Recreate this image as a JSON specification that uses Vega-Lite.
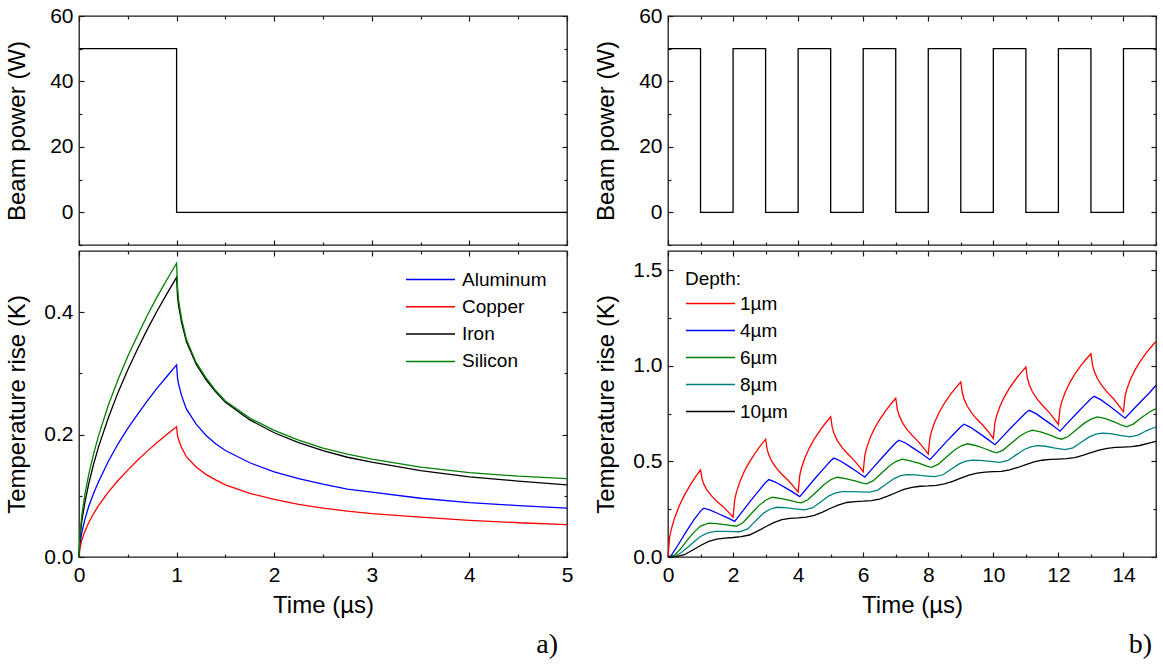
{
  "$schema": "https://vega.github.io/schema/vega-lite/v6.json",
  "padding": {"left": 4, "top": 4, "right": 4, "bottom": 4},
  "columns": 2,
  "spacing": {"row": 2, "column": 19},
  "resolve": {"scale": {"color": "independent", "x": "independent", "y": "independent"}, "legend": {"color": "independent"}},
  "datasets": {
    "powerA": [
      {"t": 0, "P": 50}, {"t": 1, "P": 0}, {"t": 5, "P": 0}
    ],
    "powerB": [
      {"t": 0, "P": 50}, {"t": 1, "P": 0}, {"t": 2, "P": 50}, {"t": 3, "P": 0}, {"t": 4, "P": 50}, {"t": 5, "P": 0},
      {"t": 6, "P": 50}, {"t": 7, "P": 0}, {"t": 8, "P": 50}, {"t": 9, "P": 0}, {"t": 10, "P": 50}, {"t": 11, "P": 0},
      {"t": 12, "P": 50}, {"t": 13, "P": 0}, {"t": 14, "P": 50}, {"t": 15, "P": 50}
    ],
    "tempA": [
      {"m": "Aluminum", "t": 0, "T": 0}, {"m": "Aluminum", "t": 0.01, "T": 0.022}, {"m": "Aluminum", "t": 0.03, "T": 0.041}, {"m": "Aluminum", "t": 0.06, "T": 0.061}, {"m": "Aluminum", "t": 0.1, "T": 0.083}, {"m": "Aluminum", "t": 0.15, "T": 0.104}, {"m": "Aluminum", "t": 0.2, "T": 0.123}, {"m": "Aluminum", "t": 0.3, "T": 0.156}, {"m": "Aluminum", "t": 0.4, "T": 0.185}, {"m": "Aluminum", "t": 0.5, "T": 0.21}, {"m": "Aluminum", "t": 0.6, "T": 0.233}, {"m": "Aluminum", "t": 0.7, "T": 0.255}, {"m": "Aluminum", "t": 0.8, "T": 0.276}, {"m": "Aluminum", "t": 0.9, "T": 0.295}, {"m": "Aluminum", "t": 1, "T": 0.314},
      {"m": "Aluminum", "t": 1.01, "T": 0.292}, {"m": "Aluminum", "t": 1.02, "T": 0.283}, {"m": "Aluminum", "t": 1.05, "T": 0.264}, {"m": "Aluminum", "t": 1.1, "T": 0.242}, {"m": "Aluminum", "t": 1.2, "T": 0.217}, {"m": "Aluminum", "t": 1.3, "T": 0.199}, {"m": "Aluminum", "t": 1.4, "T": 0.185}, {"m": "Aluminum", "t": 1.5, "T": 0.174}, {"m": "Aluminum", "t": 1.75, "T": 0.154}, {"m": "Aluminum", "t": 2, "T": 0.139}, {"m": "Aluminum", "t": 2.25, "T": 0.128}, {"m": "Aluminum", "t": 2.5, "T": 0.119}, {"m": "Aluminum", "t": 2.75, "T": 0.111}, {"m": "Aluminum", "t": 3, "T": 0.106}, {"m": "Aluminum", "t": 3.5, "T": 0.096}, {"m": "Aluminum", "t": 4, "T": 0.089}, {"m": "Aluminum", "t": 4.5, "T": 0.084}, {"m": "Aluminum", "t": 5, "T": 0.08},
      {"m": "Copper", "t": 0, "T": 0}, {"m": "Copper", "t": 0.01, "T": 0.015}, {"m": "Copper", "t": 0.03, "T": 0.028}, {"m": "Copper", "t": 0.06, "T": 0.042}, {"m": "Copper", "t": 0.1, "T": 0.056}, {"m": "Copper", "t": 0.15, "T": 0.071}, {"m": "Copper", "t": 0.2, "T": 0.084}, {"m": "Copper", "t": 0.3, "T": 0.106}, {"m": "Copper", "t": 0.4, "T": 0.125}, {"m": "Copper", "t": 0.5, "T": 0.142}, {"m": "Copper", "t": 0.6, "T": 0.158}, {"m": "Copper", "t": 0.7, "T": 0.173}, {"m": "Copper", "t": 0.8, "T": 0.187}, {"m": "Copper", "t": 0.9, "T": 0.2}, {"m": "Copper", "t": 1, "T": 0.213},
      {"m": "Copper", "t": 1.01, "T": 0.198}, {"m": "Copper", "t": 1.02, "T": 0.192}, {"m": "Copper", "t": 1.05, "T": 0.179}, {"m": "Copper", "t": 1.1, "T": 0.164}, {"m": "Copper", "t": 1.2, "T": 0.147}, {"m": "Copper", "t": 1.3, "T": 0.135}, {"m": "Copper", "t": 1.4, "T": 0.126}, {"m": "Copper", "t": 1.5, "T": 0.118}, {"m": "Copper", "t": 1.75, "T": 0.104}, {"m": "Copper", "t": 2, "T": 0.094}, {"m": "Copper", "t": 2.25, "T": 0.086}, {"m": "Copper", "t": 2.5, "T": 0.08}, {"m": "Copper", "t": 2.75, "T": 0.075}, {"m": "Copper", "t": 3, "T": 0.071}, {"m": "Copper", "t": 3.5, "T": 0.065}, {"m": "Copper", "t": 4, "T": 0.06}, {"m": "Copper", "t": 4.5, "T": 0.056}, {"m": "Copper", "t": 5, "T": 0.053},
      {"m": "Iron", "t": 0, "T": 0}, {"m": "Iron", "t": 0.01, "T": 0.032}, {"m": "Iron", "t": 0.03, "T": 0.06}, {"m": "Iron", "t": 0.06, "T": 0.089}, {"m": "Iron", "t": 0.1, "T": 0.12}, {"m": "Iron", "t": 0.15, "T": 0.152}, {"m": "Iron", "t": 0.2, "T": 0.18}, {"m": "Iron", "t": 0.3, "T": 0.227}, {"m": "Iron", "t": 0.4, "T": 0.269}, {"m": "Iron", "t": 0.5, "T": 0.306}, {"m": "Iron", "t": 0.6, "T": 0.34}, {"m": "Iron", "t": 0.7, "T": 0.372}, {"m": "Iron", "t": 0.8, "T": 0.402}, {"m": "Iron", "t": 0.9, "T": 0.43}, {"m": "Iron", "t": 1, "T": 0.457},
      {"m": "Iron", "t": 1.01, "T": 0.425}, {"m": "Iron", "t": 1.02, "T": 0.411}, {"m": "Iron", "t": 1.05, "T": 0.384}, {"m": "Iron", "t": 1.1, "T": 0.352}, {"m": "Iron", "t": 1.2, "T": 0.315}, {"m": "Iron", "t": 1.3, "T": 0.29}, {"m": "Iron", "t": 1.4, "T": 0.27}, {"m": "Iron", "t": 1.5, "T": 0.253}, {"m": "Iron", "t": 1.75, "T": 0.224}, {"m": "Iron", "t": 2, "T": 0.203}, {"m": "Iron", "t": 2.25, "T": 0.187}, {"m": "Iron", "t": 2.5, "T": 0.174}, {"m": "Iron", "t": 2.75, "T": 0.163}, {"m": "Iron", "t": 3, "T": 0.155}, {"m": "Iron", "t": 3.5, "T": 0.141}, {"m": "Iron", "t": 4, "T": 0.131}, {"m": "Iron", "t": 4.5, "T": 0.124}, {"m": "Iron", "t": 5, "T": 0.118},
      {"m": "Silicon", "t": 0, "T": 0}, {"m": "Silicon", "t": 0.01, "T": 0.038}, {"m": "Silicon", "t": 0.03, "T": 0.07}, {"m": "Silicon", "t": 0.06, "T": 0.102}, {"m": "Silicon", "t": 0.1, "T": 0.135}, {"m": "Silicon", "t": 0.15, "T": 0.169}, {"m": "Silicon", "t": 0.2, "T": 0.198}, {"m": "Silicon", "t": 0.3, "T": 0.248}, {"m": "Silicon", "t": 0.4, "T": 0.29}, {"m": "Silicon", "t": 0.5, "T": 0.328}, {"m": "Silicon", "t": 0.6, "T": 0.362}, {"m": "Silicon", "t": 0.7, "T": 0.395}, {"m": "Silicon", "t": 0.8, "T": 0.425}, {"m": "Silicon", "t": 0.9, "T": 0.453}, {"m": "Silicon", "t": 1, "T": 0.48},
      {"m": "Silicon", "t": 1.01, "T": 0.44}, {"m": "Silicon", "t": 1.02, "T": 0.42}, {"m": "Silicon", "t": 1.05, "T": 0.39}, {"m": "Silicon", "t": 1.1, "T": 0.356}, {"m": "Silicon", "t": 1.2, "T": 0.318}, {"m": "Silicon", "t": 1.3, "T": 0.293}, {"m": "Silicon", "t": 1.4, "T": 0.272}, {"m": "Silicon", "t": 1.5, "T": 0.255}, {"m": "Silicon", "t": 1.75, "T": 0.227}, {"m": "Silicon", "t": 2, "T": 0.207}, {"m": "Silicon", "t": 2.25, "T": 0.191}, {"m": "Silicon", "t": 2.5, "T": 0.178}, {"m": "Silicon", "t": 2.75, "T": 0.168}, {"m": "Silicon", "t": 3, "T": 0.16}, {"m": "Silicon", "t": 3.5, "T": 0.147}, {"m": "Silicon", "t": 4, "T": 0.138}, {"m": "Silicon", "t": 4.5, "T": 0.132}, {"m": "Silicon", "t": 5, "T": 0.128}
    ],
    "tempB": [
      {"d": "1µm", "t": 0, "T": 0}, {"d": "1µm", "t": 0.05, "T": 0.102}, {"d": "1µm", "t": 0.1, "T": 0.144}, {"d": "1µm", "t": 0.2, "T": 0.203}, {"d": "1µm", "t": 0.35, "T": 0.269}, {"d": "1µm", "t": 0.5, "T": 0.322}, {"d": "1µm", "t": 0.7, "T": 0.381}, {"d": "1µm", "t": 0.85, "T": 0.42}, {"d": "1µm", "t": 1, "T": 0.455},
      {"d": "1µm", "t": 1.05, "T": 0.406}, {"d": "1µm", "t": 1.1, "T": 0.381}, {"d": "1µm", "t": 1.2, "T": 0.349}, {"d": "1µm", "t": 1.35, "T": 0.317}, {"d": "1µm", "t": 1.5, "T": 0.292}, {"d": "1µm", "t": 1.7, "T": 0.262}, {"d": "1µm", "t": 1.85, "T": 0.236}, {"d": "1µm", "t": 2, "T": 0.208},
      {"d": "1µm", "t": 2.05, "T": 0.299}, {"d": "1µm", "t": 2.1, "T": 0.337}, {"d": "1µm", "t": 2.2, "T": 0.39}, {"d": "1µm", "t": 2.35, "T": 0.45}, {"d": "1µm", "t": 2.5, "T": 0.496}, {"d": "1µm", "t": 2.7, "T": 0.549}, {"d": "1µm", "t": 2.85, "T": 0.584}, {"d": "1µm", "t": 3, "T": 0.616},
      {"d": "1µm", "t": 3.05, "T": 0.561}, {"d": "1µm", "t": 3.1, "T": 0.533}, {"d": "1µm", "t": 3.2, "T": 0.497}, {"d": "1µm", "t": 3.35, "T": 0.461}, {"d": "1µm", "t": 3.5, "T": 0.433}, {"d": "1µm", "t": 3.7, "T": 0.4}, {"d": "1µm", "t": 3.85, "T": 0.371}, {"d": "1µm", "t": 4, "T": 0.339},
      {"d": "1µm", "t": 4.05, "T": 0.427}, {"d": "1µm", "t": 4.1, "T": 0.464}, {"d": "1µm", "t": 4.2, "T": 0.515}, {"d": "1µm", "t": 4.35, "T": 0.572}, {"d": "1µm", "t": 4.5, "T": 0.618}, {"d": "1µm", "t": 4.7, "T": 0.669}, {"d": "1µm", "t": 4.85, "T": 0.702}, {"d": "1µm", "t": 5, "T": 0.733},
      {"d": "1µm", "t": 5.05, "T": 0.676}, {"d": "1µm", "t": 5.1, "T": 0.647}, {"d": "1µm", "t": 5.2, "T": 0.61}, {"d": "1µm", "t": 5.35, "T": 0.572}, {"d": "1µm", "t": 5.5, "T": 0.544}, {"d": "1µm", "t": 5.7, "T": 0.509}, {"d": "1µm", "t": 5.85, "T": 0.479}, {"d": "1µm", "t": 6, "T": 0.446},
      {"d": "1µm", "t": 6.05, "T": 0.532}, {"d": "1µm", "t": 6.1, "T": 0.567}, {"d": "1µm", "t": 6.2, "T": 0.618}, {"d": "1µm", "t": 6.35, "T": 0.673}, {"d": "1µm", "t": 6.5, "T": 0.717}, {"d": "1µm", "t": 6.7, "T": 0.767}, {"d": "1µm", "t": 6.85, "T": 0.8}, {"d": "1µm", "t": 7, "T": 0.83},
      {"d": "1µm", "t": 7.05, "T": 0.772}, {"d": "1µm", "t": 7.1, "T": 0.742}, {"d": "1µm", "t": 7.2, "T": 0.704}, {"d": "1µm", "t": 7.35, "T": 0.666}, {"d": "1µm", "t": 7.5, "T": 0.637}, {"d": "1µm", "t": 7.7, "T": 0.602}, {"d": "1µm", "t": 7.85, "T": 0.572}, {"d": "1µm", "t": 8, "T": 0.538},
      {"d": "1µm", "t": 8.05, "T": 0.622}, {"d": "1µm", "t": 8.1, "T": 0.657}, {"d": "1µm", "t": 8.2, "T": 0.707}, {"d": "1µm", "t": 8.35, "T": 0.761}, {"d": "1µm", "t": 8.5, "T": 0.805}, {"d": "1µm", "t": 8.7, "T": 0.854}, {"d": "1µm", "t": 8.85, "T": 0.886}, {"d": "1µm", "t": 9, "T": 0.915},
      {"d": "1µm", "t": 9.05, "T": 0.856}, {"d": "1µm", "t": 9.1, "T": 0.826}, {"d": "1µm", "t": 9.2, "T": 0.788}, {"d": "1µm", "t": 9.35, "T": 0.75}, {"d": "1µm", "t": 9.5, "T": 0.72}, {"d": "1µm", "t": 9.7, "T": 0.685}, {"d": "1µm", "t": 9.85, "T": 0.654}, {"d": "1µm", "t": 10, "T": 0.62},
      {"d": "1µm", "t": 10.05, "T": 0.704}, {"d": "1µm", "t": 10.1, "T": 0.738}, {"d": "1µm", "t": 10.2, "T": 0.787}, {"d": "1µm", "t": 10.35, "T": 0.841}, {"d": "1µm", "t": 10.5, "T": 0.884}, {"d": "1µm", "t": 10.7, "T": 0.932}, {"d": "1µm", "t": 10.85, "T": 0.964}, {"d": "1µm", "t": 11, "T": 0.993},
      {"d": "1µm", "t": 11.05, "T": 0.933}, {"d": "1µm", "t": 11.1, "T": 0.903}, {"d": "1µm", "t": 11.2, "T": 0.864}, {"d": "1µm", "t": 11.35, "T": 0.825}, {"d": "1µm", "t": 11.5, "T": 0.795}, {"d": "1µm", "t": 11.7, "T": 0.759}, {"d": "1µm", "t": 11.85, "T": 0.727}, {"d": "1µm", "t": 12, "T": 0.693},
      {"d": "1µm", "t": 12.05, "T": 0.776}, {"d": "1µm", "t": 12.1, "T": 0.81}, {"d": "1µm", "t": 12.2, "T": 0.858}, {"d": "1µm", "t": 12.35, "T": 0.912}, {"d": "1µm", "t": 12.5, "T": 0.955}, {"d": "1µm", "t": 12.7, "T": 1.003}, {"d": "1µm", "t": 12.85, "T": 1.034}, {"d": "1µm", "t": 13, "T": 1.063},
      {"d": "1µm", "t": 13.05, "T": 1.002}, {"d": "1µm", "t": 13.1, "T": 0.972}, {"d": "1µm", "t": 13.2, "T": 0.932}, {"d": "1µm", "t": 13.35, "T": 0.893}, {"d": "1µm", "t": 13.5, "T": 0.862}, {"d": "1µm", "t": 13.7, "T": 0.826}, {"d": "1µm", "t": 13.85, "T": 0.794}, {"d": "1µm", "t": 14, "T": 0.759},
      {"d": "1µm", "t": 14.05, "T": 0.841}, {"d": "1µm", "t": 14.1, "T": 0.875}, {"d": "1µm", "t": 14.2, "T": 0.923}, {"d": "1µm", "t": 14.35, "T": 0.977}, {"d": "1µm", "t": 14.5, "T": 1.019}, {"d": "1µm", "t": 14.7, "T": 1.067}, {"d": "1µm", "t": 14.85, "T": 1.098}, {"d": "1µm", "t": 15, "T": 1.127},

      {"d": "4µm", "t": 0, "T": 0}, {"d": "4µm", "t": 0.1, "T": 0.008}, {"d": "4µm", "t": 0.3, "T": 0.06}, {"d": "4µm", "t": 0.55, "T": 0.13}, {"d": "4µm", "t": 0.8, "T": 0.195}, {"d": "4µm", "t": 1, "T": 0.24}, {"d": "4µm", "t": 1.1, "T": 0.255},
      {"d": "4µm", "t": 1.3, "T": 0.245}, {"d": "4µm", "t": 1.55, "T": 0.226}, {"d": "4µm", "t": 1.8, "T": 0.207}, {"d": "4µm", "t": 2.05, "T": 0.186},
      {"d": "4µm", "t": 2.3, "T": 0.241}, {"d": "4µm", "t": 2.55, "T": 0.296}, {"d": "4µm", "t": 2.8, "T": 0.348}, {"d": "4µm", "t": 3, "T": 0.39}, {"d": "4µm", "t": 3.1, "T": 0.405},
      {"d": "4µm", "t": 3.3, "T": 0.392}, {"d": "4µm", "t": 3.55, "T": 0.368}, {"d": "4µm", "t": 3.8, "T": 0.343}, {"d": "4µm", "t": 4.05, "T": 0.316},
      {"d": "4µm", "t": 4.3, "T": 0.366}, {"d": "4µm", "t": 4.55, "T": 0.417}, {"d": "4µm", "t": 4.8, "T": 0.465}, {"d": "4µm", "t": 5, "T": 0.503}, {"d": "4µm", "t": 5.1, "T": 0.517},
      {"d": "4µm", "t": 5.3, "T": 0.502}, {"d": "4µm", "t": 5.55, "T": 0.475}, {"d": "4µm", "t": 5.8, "T": 0.447}, {"d": "4µm", "t": 6.05, "T": 0.417},
      {"d": "4µm", "t": 6.3, "T": 0.466}, {"d": "4µm", "t": 6.55, "T": 0.514}, {"d": "4µm", "t": 6.8, "T": 0.561}, {"d": "4µm", "t": 7, "T": 0.597}, {"d": "4µm", "t": 7.1, "T": 0.611},
      {"d": "4µm", "t": 7.3, "T": 0.596}, {"d": "4µm", "t": 7.55, "T": 0.568}, {"d": "4µm", "t": 7.8, "T": 0.54}, {"d": "4µm", "t": 8.05, "T": 0.509},
      {"d": "4µm", "t": 8.3, "T": 0.555}, {"d": "4µm", "t": 8.55, "T": 0.602}, {"d": "4µm", "t": 8.8, "T": 0.646}, {"d": "4µm", "t": 9, "T": 0.681}, {"d": "4µm", "t": 9.1, "T": 0.694},
      {"d": "4µm", "t": 9.3, "T": 0.678}, {"d": "4µm", "t": 9.55, "T": 0.649}, {"d": "4µm", "t": 9.8, "T": 0.619}, {"d": "4µm", "t": 10.05, "T": 0.587},
      {"d": "4µm", "t": 10.3, "T": 0.632}, {"d": "4µm", "t": 10.55, "T": 0.677}, {"d": "4µm", "t": 10.8, "T": 0.72}, {"d": "4µm", "t": 11, "T": 0.754}, {"d": "4µm", "t": 11.1, "T": 0.767},
      {"d": "4µm", "t": 11.3, "T": 0.751}, {"d": "4µm", "t": 11.55, "T": 0.721}, {"d": "4µm", "t": 11.8, "T": 0.691}, {"d": "4µm", "t": 12.05, "T": 0.658},
      {"d": "4µm", "t": 12.3, "T": 0.704}, {"d": "4µm", "t": 12.55, "T": 0.749}, {"d": "4µm", "t": 12.8, "T": 0.793}, {"d": "4µm", "t": 13, "T": 0.827}, {"d": "4µm", "t": 13.1, "T": 0.84},
      {"d": "4µm", "t": 13.3, "T": 0.823}, {"d": "4µm", "t": 13.55, "T": 0.792}, {"d": "4µm", "t": 13.8, "T": 0.76}, {"d": "4µm", "t": 14.05, "T": 0.726},
      {"d": "4µm", "t": 14.3, "T": 0.771}, {"d": "4µm", "t": 14.55, "T": 0.816}, {"d": "4µm", "t": 14.8, "T": 0.859}, {"d": "4µm", "t": 15, "T": 0.898},

      {"d": "6µm", "t": 0, "T": 0}, {"d": "6µm", "t": 0.2, "T": 0.01}, {"d": "6µm", "t": 0.4, "T": 0.045}, {"d": "6µm", "t": 0.6, "T": 0.09}, {"d": "6µm", "t": 0.8, "T": 0.13}, {"d": "6µm", "t": 1, "T": 0.162}, {"d": "6µm", "t": 1.25, "T": 0.177}, {"d": "6µm", "t": 1.5, "T": 0.175}, {"d": "6µm", "t": 1.8, "T": 0.168}, {"d": "6µm", "t": 2.1, "T": 0.161},
      {"d": "6µm", "t": 2.3, "T": 0.179}, {"d": "6µm", "t": 2.55, "T": 0.225}, {"d": "6µm", "t": 2.8, "T": 0.27}, {"d": "6µm", "t": 3, "T": 0.297}, {"d": "6µm", "t": 3.2, "T": 0.3125},
      {"d": "6µm", "t": 3.45, "T": 0.307}, {"d": "6µm", "t": 3.75, "T": 0.296}, {"d": "6µm", "t": 3.95, "T": 0.287}, {"d": "6µm", "t": 4.1, "T": 0.283},
      {"d": "6µm", "t": 4.3, "T": 0.299}, {"d": "6µm", "t": 4.55, "T": 0.339}, {"d": "6µm", "t": 4.8, "T": 0.379}, {"d": "6µm", "t": 5, "T": 0.404}, {"d": "6µm", "t": 5.2, "T": 0.417},
      {"d": "6µm", "t": 5.45, "T": 0.41}, {"d": "6µm", "t": 5.75, "T": 0.398}, {"d": "6µm", "t": 5.95, "T": 0.387}, {"d": "6µm", "t": 6.1, "T": 0.382},
      {"d": "6µm", "t": 6.3, "T": 0.398}, {"d": "6µm", "t": 6.55, "T": 0.437}, {"d": "6µm", "t": 6.8, "T": 0.476}, {"d": "6µm", "t": 7, "T": 0.499}, {"d": "6µm", "t": 7.2, "T": 0.512},
      {"d": "6µm", "t": 7.45, "T": 0.503}, {"d": "6µm", "t": 7.75, "T": 0.488}, {"d": "6µm", "t": 7.95, "T": 0.475}, {"d": "6µm", "t": 8.1, "T": 0.469},
      {"d": "6µm", "t": 8.3, "T": 0.484}, {"d": "6µm", "t": 8.55, "T": 0.521}, {"d": "6µm", "t": 8.8, "T": 0.558}, {"d": "6µm", "t": 9, "T": 0.58}, {"d": "6µm", "t": 9.2, "T": 0.592},
      {"d": "6µm", "t": 9.45, "T": 0.583}, {"d": "6µm", "t": 9.75, "T": 0.566}, {"d": "6µm", "t": 9.95, "T": 0.552}, {"d": "6µm", "t": 10.1, "T": 0.545},
      {"d": "6µm", "t": 10.3, "T": 0.559}, {"d": "6µm", "t": 10.55, "T": 0.595}, {"d": "6µm", "t": 10.8, "T": 0.63}, {"d": "6µm", "t": 11, "T": 0.651}, {"d": "6µm", "t": 11.2, "T": 0.663},
      {"d": "6µm", "t": 11.45, "T": 0.654}, {"d": "6µm", "t": 11.75, "T": 0.637}, {"d": "6µm", "t": 11.95, "T": 0.623}, {"d": "6µm", "t": 12.1, "T": 0.616},
      {"d": "6µm", "t": 12.3, "T": 0.63}, {"d": "6µm", "t": 12.55, "T": 0.665}, {"d": "6µm", "t": 12.8, "T": 0.7}, {"d": "6µm", "t": 13, "T": 0.721}, {"d": "6µm", "t": 13.2, "T": 0.733},
      {"d": "6µm", "t": 13.45, "T": 0.723}, {"d": "6µm", "t": 13.75, "T": 0.704}, {"d": "6µm", "t": 13.95, "T": 0.689}, {"d": "6µm", "t": 14.1, "T": 0.681},
      {"d": "6µm", "t": 14.3, "T": 0.695}, {"d": "6µm", "t": 14.55, "T": 0.728}, {"d": "6µm", "t": 14.8, "T": 0.758}, {"d": "6µm", "t": 15, "T": 0.776},

      {"d": "8µm", "t": 0, "T": 0}, {"d": "8µm", "t": 0.2, "T": 0.004}, {"d": "8µm", "t": 0.4, "T": 0.022}, {"d": "8µm", "t": 0.6, "T": 0.05}, {"d": "8µm", "t": 0.8, "T": 0.08}, {"d": "8µm", "t": 1, "T": 0.107}, {"d": "8µm", "t": 1.2, "T": 0.125}, {"d": "8µm", "t": 1.45, "T": 0.134}, {"d": "8µm", "t": 1.8, "T": 0.134}, {"d": "8µm", "t": 2.2, "T": 0.132},
      {"d": "8µm", "t": 2.45, "T": 0.147}, {"d": "8µm", "t": 2.7, "T": 0.19}, {"d": "8µm", "t": 2.95, "T": 0.231}, {"d": "8µm", "t": 3.15, "T": 0.251}, {"d": "8µm", "t": 3.35, "T": 0.26},
      {"d": "8µm", "t": 3.6, "T": 0.258}, {"d": "8µm", "t": 3.9, "T": 0.252}, {"d": "8µm", "t": 4.2, "T": 0.2465},
      {"d": "8µm", "t": 4.45, "T": 0.258}, {"d": "8µm", "t": 4.7, "T": 0.289}, {"d": "8µm", "t": 4.95, "T": 0.32}, {"d": "8µm", "t": 5.15, "T": 0.335}, {"d": "8µm", "t": 5.35, "T": 0.342},
      {"d": "8µm", "t": 5.6, "T": 0.342}, {"d": "8µm", "t": 5.9, "T": 0.34}, {"d": "8µm", "t": 6.2, "T": 0.339},
      {"d": "8µm", "t": 6.45, "T": 0.35}, {"d": "8µm", "t": 6.7, "T": 0.38}, {"d": "8µm", "t": 6.95, "T": 0.41}, {"d": "8µm", "t": 7.15, "T": 0.425}, {"d": "8µm", "t": 7.35, "T": 0.431},
      {"d": "8µm", "t": 7.6, "T": 0.429}, {"d": "8µm", "t": 7.9, "T": 0.424}, {"d": "8µm", "t": 8.2, "T": 0.42},
      {"d": "8µm", "t": 8.45, "T": 0.43}, {"d": "8µm", "t": 8.7, "T": 0.459}, {"d": "8µm", "t": 8.95, "T": 0.487}, {"d": "8µm", "t": 9.15, "T": 0.501}, {"d": "8µm", "t": 9.35, "T": 0.507},
      {"d": "8µm", "t": 9.6, "T": 0.505}, {"d": "8µm", "t": 9.9, "T": 0.5}, {"d": "8µm", "t": 10.2, "T": 0.495},
      {"d": "8µm", "t": 10.45, "T": 0.505}, {"d": "8µm", "t": 10.7, "T": 0.534}, {"d": "8µm", "t": 10.95, "T": 0.562}, {"d": "8µm", "t": 11.15, "T": 0.576}, {"d": "8µm", "t": 11.35, "T": 0.582},
      {"d": "8µm", "t": 11.6, "T": 0.579}, {"d": "8µm", "t": 11.9, "T": 0.569}, {"d": "8µm", "t": 12.2, "T": 0.561},
      {"d": "8µm", "t": 12.45, "T": 0.571}, {"d": "8µm", "t": 12.7, "T": 0.6}, {"d": "8µm", "t": 12.95, "T": 0.628}, {"d": "8µm", "t": 13.15, "T": 0.642}, {"d": "8µm", "t": 13.35, "T": 0.648},
      {"d": "8µm", "t": 13.6, "T": 0.645}, {"d": "8µm", "t": 13.9, "T": 0.636}, {"d": "8µm", "t": 14.2, "T": 0.628},
      {"d": "8µm", "t": 14.45, "T": 0.637}, {"d": "8µm", "t": 14.7, "T": 0.66}, {"d": "8µm", "t": 15, "T": 0.681},

      {"d": "10µm", "t": 0, "T": 0}, {"d": "10µm", "t": 0.25, "T": 0.002}, {"d": "10µm", "t": 0.5, "T": 0.012}, {"d": "10µm", "t": 0.75, "T": 0.035}, {"d": "10µm", "t": 1, "T": 0.06}, {"d": "10µm", "t": 1.25, "T": 0.082}, {"d": "10µm", "t": 1.5, "T": 0.094}, {"d": "10µm", "t": 1.75, "T": 0.099},
      {"d": "10µm", "t": 2, "T": 0.102}, {"d": "10µm", "t": 2.25, "T": 0.106}, {"d": "10µm", "t": 2.5, "T": 0.115}, {"d": "10µm", "t": 2.75, "T": 0.135}, {"d": "10µm", "t": 3, "T": 0.158}, {"d": "10µm", "t": 3.25, "T": 0.18}, {"d": "10µm", "t": 3.5, "T": 0.195}, {"d": "10µm", "t": 3.75, "T": 0.202},
      {"d": "10µm", "t": 4, "T": 0.205}, {"d": "10µm", "t": 4.25, "T": 0.209}, {"d": "10µm", "t": 4.5, "T": 0.218}, {"d": "10µm", "t": 4.75, "T": 0.235}, {"d": "10µm", "t": 5, "T": 0.255}, {"d": "10µm", "t": 5.25, "T": 0.273}, {"d": "10µm", "t": 5.5, "T": 0.285}, {"d": "10µm", "t": 5.75, "T": 0.29},
      {"d": "10µm", "t": 6, "T": 0.292}, {"d": "10µm", "t": 6.25, "T": 0.295}, {"d": "10µm", "t": 6.5, "T": 0.303}, {"d": "10µm", "t": 6.75, "T": 0.318}, {"d": "10µm", "t": 7, "T": 0.336}, {"d": "10µm", "t": 7.25, "T": 0.353}, {"d": "10µm", "t": 7.5, "T": 0.364}, {"d": "10µm", "t": 7.75, "T": 0.37},
      {"d": "10µm", "t": 8, "T": 0.372}, {"d": "10µm", "t": 8.25, "T": 0.375}, {"d": "10µm", "t": 8.5, "T": 0.382}, {"d": "10µm", "t": 8.75, "T": 0.396}, {"d": "10µm", "t": 9, "T": 0.412}, {"d": "10µm", "t": 9.25, "T": 0.428}, {"d": "10µm", "t": 9.5, "T": 0.439}, {"d": "10µm", "t": 9.75, "T": 0.444},
      {"d": "10µm", "t": 10, "T": 0.446}, {"d": "10µm", "t": 10.25, "T": 0.448}, {"d": "10µm", "t": 10.5, "T": 0.455}, {"d": "10µm", "t": 10.75, "T": 0.468}, {"d": "10µm", "t": 11, "T": 0.483}, {"d": "10µm", "t": 11.25, "T": 0.497}, {"d": "10µm", "t": 11.5, "T": 0.506}, {"d": "10µm", "t": 11.75, "T": 0.51},
      {"d": "10µm", "t": 12, "T": 0.512}, {"d": "10µm", "t": 12.25, "T": 0.514}, {"d": "10µm", "t": 12.5, "T": 0.52}, {"d": "10µm", "t": 12.75, "T": 0.532}, {"d": "10µm", "t": 13, "T": 0.546}, {"d": "10µm", "t": 13.25, "T": 0.559}, {"d": "10µm", "t": 13.5, "T": 0.568}, {"d": "10µm", "t": 13.75, "T": 0.573},
      {"d": "10µm", "t": 14, "T": 0.575}, {"d": "10µm", "t": 14.25, "T": 0.577}, {"d": "10µm", "t": 14.5, "T": 0.583}, {"d": "10µm", "t": 14.75, "T": 0.594}, {"d": "10µm", "t": 15, "T": 0.604}
    ]
  },
  "concat": [
    {
      "width": 488, "height": 229,
      "data": {"name": "powerA"},
      "layer": [
        {
          "mark": {"type": "line", "interpolate": "step-after", "color": "#000000", "strokeWidth": 1.3},
          "encoding": {
            "x": {"field": "t", "type": "quantitative", "scale": {"domain": [0, 5], "nice": false},
              "axis": {"orient": "bottom", "title": null, "labels": false, "values": [0, 0.5, 1, 1.5, 2, 2.5, 3, 3.5, 4, 4.5, 5],
                "tickSize": {"condition": {"test": "datum.value % 1 !== 0", "value": -3}, "value": -5}}},
            "y": {"field": "P", "type": "quantitative", "scale": {"domain": [-10, 60], "nice": false},
              "axis": {"orient": "left", "title": "Beam power (W)", "values": [-10, 0, 10, 20, 30, 40, 50, 60],
                "labelExpr": "datum.value % 20 !== 0 ? '' : datum.label",
                "tickSize": {"condition": {"test": "datum.value % 20 !== 0", "value": -3}, "value": -5}}}
          }
        },
        {
          "mark": {"type": "line", "opacity": 0},
          "encoding": {
            "x": {"field": "t", "type": "quantitative",
              "axis": {"orient": "top", "title": null, "labels": false, "values": [0, 0.5, 1, 1.5, 2, 2.5, 3, 3.5, 4, 4.5, 5],
                "tickSize": {"condition": {"test": "datum.value % 1 !== 0", "value": -3}, "value": -5}}},
            "y": {"field": "P", "type": "quantitative",
              "axis": {"orient": "right", "title": null, "labels": false, "values": [-10, 0, 10, 20, 30, 40, 50, 60],
                "tickSize": {"condition": {"test": "datum.value % 20 !== 0", "value": -3}, "value": -5}}}
          }
        }
      ],
      "resolve": {"axis": {"x": "independent", "y": "independent"}}
    },
    {
      "width": 488, "height": 229,
      "data": {"name": "powerB"},
      "layer": [
        {
          "mark": {"type": "line", "interpolate": "step-after", "color": "#000000", "strokeWidth": 1.3},
          "encoding": {
            "x": {"field": "t", "type": "quantitative", "scale": {"domain": [0, 15], "nice": false},
              "axis": {"orient": "bottom", "title": null, "labels": false, "values": [0, 1, 2, 3, 4, 5, 6, 7, 8, 9, 10, 11, 12, 13, 14, 15],
                "tickSize": {"condition": {"test": "datum.value % 2 !== 0", "value": -3}, "value": -5}}},
            "y": {"field": "P", "type": "quantitative", "scale": {"domain": [-10, 60], "nice": false},
              "axis": {"orient": "left", "title": "Beam power (W)", "values": [-10, 0, 10, 20, 30, 40, 50, 60],
                "labelExpr": "datum.value % 20 !== 0 ? '' : datum.label",
                "tickSize": {"condition": {"test": "datum.value % 20 !== 0", "value": -3}, "value": -5}}}
          }
        },
        {
          "mark": {"type": "line", "opacity": 0},
          "encoding": {
            "x": {"field": "t", "type": "quantitative",
              "axis": {"orient": "top", "title": null, "labels": false, "values": [0, 1, 2, 3, 4, 5, 6, 7, 8, 9, 10, 11, 12, 13, 14, 15],
                "tickSize": {"condition": {"test": "datum.value % 2 !== 0", "value": -3}, "value": -5}}},
            "y": {"field": "P", "type": "quantitative",
              "axis": {"orient": "right", "title": null, "labels": false, "values": [-10, 0, 10, 20, 30, 40, 50, 60],
                "tickSize": {"condition": {"test": "datum.value % 20 !== 0", "value": -3}, "value": -5}}}
          }
        }
      ],
      "resolve": {"axis": {"x": "independent", "y": "independent"}}
    },
    {
      "width": 488, "height": 306,
      "data": {"name": "tempA"},
      "title": {"text": "a)", "orient": "bottom", "anchor": "end", "frame": "group", "font": "Liberation Serif", "fontSize": 28, "fontWeight": "normal", "color": "#000000", "offset": 14, "dx": -9},
      "layer": [
        {
          "mark": {"type": "line", "strokeWidth": 1.3},
          "encoding": {
            "x": {"field": "t", "type": "quantitative", "scale": {"domain": [0, 5], "nice": false},
              "axis": {"orient": "bottom", "title": "Time (µs)", "values": [0, 0.5, 1, 1.5, 2, 2.5, 3, 3.5, 4, 4.5, 5], "format": ".0f",
                "labelExpr": "datum.value % 1 !== 0 ? '' : datum.label",
                "tickSize": {"condition": {"test": "datum.value % 1 !== 0", "value": -3}, "value": -5}}},
            "y": {"field": "T", "type": "quantitative", "scale": {"domain": [0, 0.5], "nice": false},
              "axis": {"orient": "left", "title": "Temperature rise (K)", "values": [0, 0.1, 0.2, 0.3, 0.4], "format": ".1f",
                "labelExpr": "abs(datum.value * 5 - round(datum.value * 5)) > 0.01 ? '' : datum.label",
                "tickSize": {"condition": {"test": "abs(datum.value * 5 - round(datum.value * 5)) > 0.01", "value": -3}, "value": -5}}},
            "color": {"field": "m", "type": "nominal",
              "scale": {"domain": ["Aluminum", "Copper", "Iron", "Silicon"], "range": ["#0000ff", "#ff0000", "#000000", "#008000"]},
              "legend": {"orient": "none", "legendX": 326, "legendY": 19, "title": null, "symbolType": "stroke", "symbolSize": 2401,
                "symbolStrokeWidth": 1.5, "clipHeight": 19, "rowPadding": 7.3, "labelOffset": 6, "labelFontSize": 19, "padding": 0}}
          }
        },
        {
          "mark": {"type": "line", "opacity": 0},
          "encoding": {
            "x": {"field": "t", "type": "quantitative",
              "axis": {"orient": "top", "title": null, "labels": false, "values": [0, 0.5, 1, 1.5, 2, 2.5, 3, 3.5, 4, 4.5, 5],
                "tickSize": {"condition": {"test": "datum.value % 1 !== 0", "value": -3}, "value": -5}}},
            "y": {"field": "T", "type": "quantitative",
              "axis": {"orient": "right", "title": null, "labels": false, "values": [0, 0.1, 0.2, 0.3, 0.4],
                "tickSize": {"condition": {"test": "abs(datum.value * 5 - round(datum.value * 5)) > 0.01", "value": -3}, "value": -5}}},
            "detail": {"field": "m", "type": "nominal"}
          }
        }
      ],
      "resolve": {"axis": {"x": "independent", "y": "independent"}}
    },
    {
      "width": 488, "height": 306,
      "data": {"name": "tempB"},
      "title": {"text": "b)", "orient": "bottom", "anchor": "end", "frame": "group", "font": "Liberation Serif", "fontSize": 28, "fontWeight": "normal", "color": "#000000", "offset": 14, "dx": -4},
      "layer": [
        {
          "mark": {"type": "line", "strokeWidth": 1.3},
          "encoding": {
            "x": {"field": "t", "type": "quantitative", "scale": {"domain": [0, 15], "nice": false},
              "axis": {"orient": "bottom", "title": "Time (µs)", "values": [0, 1, 2, 3, 4, 5, 6, 7, 8, 9, 10, 11, 12, 13, 14, 15], "format": ".0f",
                "labelExpr": "datum.value % 2 !== 0 ? '' : datum.label",
                "tickSize": {"condition": {"test": "datum.value % 2 !== 0", "value": -3}, "value": -5}}},
            "y": {"field": "T", "type": "quantitative", "scale": {"domain": [0, 1.6], "nice": false},
              "axis": {"orient": "left", "title": "Temperature rise (K)", "values": [0, 0.25, 0.5, 0.75, 1, 1.25, 1.5], "format": ".1f",
                "labelExpr": "datum.value % 0.5 !== 0 ? '' : datum.label",
                "tickSize": {"condition": {"test": "datum.value % 0.5 !== 0", "value": -3}, "value": -5}}},
            "color": {"field": "d", "type": "nominal",
              "scale": {"domain": ["1µm", "4µm", "6µm", "8µm", "10µm"], "range": ["#ff0000", "#0000ff", "#008000", "#008080", "#000000"]},
              "legend": {"orient": "none", "legendX": 17, "legendY": 19, "title": "\u2007Depth:", "titleAnchor": "start", "titlePadding": 5, "titleFontSize": 19, "titleFontWeight": "normal",
                "symbolType": "stroke", "symbolSize": 2401, "symbolStrokeWidth": 1.5, "clipHeight": 19, "rowPadding": 7, "labelOffset": 4, "labelFontSize": 19, "padding": 0}}
          }
        },
        {
          "mark": {"type": "line", "opacity": 0},
          "encoding": {
            "x": {"field": "t", "type": "quantitative",
              "axis": {"orient": "top", "title": null, "labels": false, "values": [0, 1, 2, 3, 4, 5, 6, 7, 8, 9, 10, 11, 12, 13, 14, 15],
                "tickSize": {"condition": {"test": "datum.value % 2 !== 0", "value": -3}, "value": -5}}},
            "y": {"field": "T", "type": "quantitative",
              "axis": {"orient": "right", "title": null, "labels": false, "values": [0, 0.25, 0.5, 0.75, 1, 1.25, 1.5],
                "tickSize": {"condition": {"test": "datum.value % 0.5 !== 0", "value": -3}, "value": -5}}},
            "detail": {"field": "d", "type": "nominal"}
          }
        }
      ],
      "resolve": {"axis": {"x": "independent", "y": "independent"}}
    }
  ],
  "config": {
    "font": "Liberation Sans",
    "background": "#ffffff",
    "view": {"stroke": "#1a1a1a", "strokeWidth": 1.3},
    "axis": {"domain": false, "grid": false, "labelFlush": false, "labelFont": "Liberation Sans", "labelFontSize": 21, "labelColor": "#000000",
      "titleFont": "Liberation Sans", "titleFontSize": 24, "titleFontWeight": "normal", "titleColor": "#000000",
      "tickColor": "#1a1a1a", "tickWidth": 1.2},
    "axisLeft": {"labelPadding": 11, "titleX": -50},
    "axisBottom": {"labelPadding": 12, "titlePadding": 8},
    "legend": {"labelFont": "Liberation Sans", "titleFont": "Liberation Sans", "labelColor": "#000000", "titleColor": "#000000"},
    "title": {"font": "Liberation Serif"}
  }
}
